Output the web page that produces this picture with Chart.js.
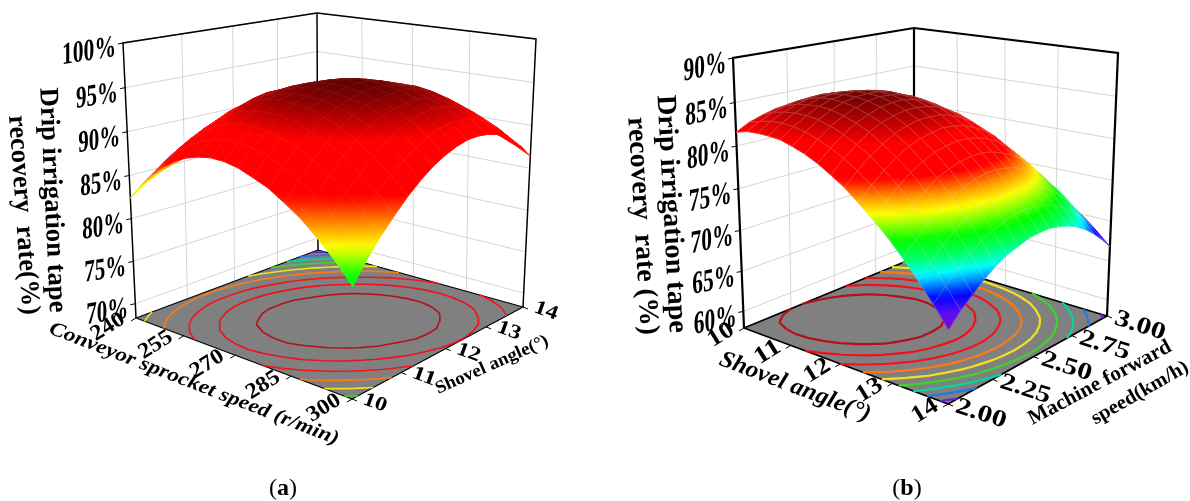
<!DOCTYPE html>
<html>
<head>
<meta charset="utf-8">
<title>Drip irrigation tape recovery rate</title>
<script src="https://cdn.jsdelivr.net/npm/chart.js@4/dist/chart.umd.min.js"></script>
<style>
  html, body { margin: 0; padding: 0; background: #fff; }
  canvas { display: block; }
</style>
</head>
<body>
<canvas id="grafica" width="1190" height="501"></canvas>
<script>
// tick values
const speedTicks = [240, 255, 270, 285, 300];
const angleTicks = [10, 11, 12, 13, 14];
const forwardTicks = [2.00, 2.25, 2.50, 2.75, 3.00];
const rateTicksA = [70, 75, 80, 85, 90, 95, 100];
const rateTicksB = [60, 65, 70, 75, 80, 85, 90];

// contour levels on the floor
const levelsA = [73.7, 76.2, 78.7, 81.2, 83.7, 86.2, 88.7, 91.2, 93.7];
const levelsB = [67.5, 69.5, 71.5, 73.5, 75.5, 77.5, 79.5, 81.5, 83.5];

// recovery rate: rows go 240 -> 300 r/min, columns 10 -> 14 deg
const rateA = [
  [82.4,83.5,84.4,85.0,85.4,85.6,85.5,85.2,84.7,83.9,82.9,81.7,80.2,78.5,76.6,74.4,72.0],
  [84.2,85.4,86.3,87.0,87.5,87.7,87.7,87.5,87.0,86.3,85.4,84.2,82.8,81.2,79.3,77.2,74.8],
  [85.7,87.0,88.0,88.7,89.3,89.6,89.6,89.5,89.1,88.4,87.6,86.5,85.1,83.5,81.7,79.7,77.4],
  [87.0,88.3,89.4,90.2,90.8,91.2,91.3,91.2,90.9,90.3,89.5,88.5,87.2,85.7,83.9,81.9,79.7],
  [88.0,89.4,90.5,91.4,92.1,92.5,92.7,92.7,92.4,91.9,91.2,90.2,89.0,87.5,85.8,83.9,81.8],
  [88.8,90.2,91.4,92.4,93.1,93.6,93.9,93.9,93.7,93.3,92.6,91.7,90.5,89.1,87.5,85.7,83.6],
  [89.3,90.8,92.1,93.1,93.9,94.3,94.5,94.6,94.4,94.1,93.7,92.9,91.8,90.5,88.9,87.2,85.1],
  [89.6,91.1,92.5,93.5,94.4,94.7,95.0,95.2,95.1,94.9,94.6,93.9,92.8,91.6,90.1,88.4,86.4],
  [89.6,91.2,92.6,93.7,94.7,95.0,95.4,95.6,95.6,95.4,95.0,94.4,93.6,92.4,91.0,89.3,87.5],
  [89.3,91.0,92.4,93.7,94.6,95.1,95.5,95.8,95.9,95.7,95.3,94.7,94.1,93.0,91.6,90.1,88.2],
  [88.7,90.5,92.0,93.3,94.4,94.9,95.4,95.7,95.8,95.7,95.4,94.9,94.4,93.3,92.0,90.5,88.7],
  [88.0,89.8,91.4,92.7,93.8,94.5,95.0,95.4,95.6,95.5,95.2,94.8,94.4,93.4,92.1,90.7,89.0],
  [86.9,88.8,90.5,91.9,93.1,94.0,94.7,94.9,95.2,95.2,95.0,94.6,94.1,93.2,92.0,90.6,89.0],
  [85.7,87.6,89.3,90.8,92.0,93.1,93.8,94.2,94.5,94.6,94.4,94.0,93.6,92.7,91.6,90.3,88.7],
  [84.1,86.1,87.9,89.4,90.7,91.8,92.7,93.3,93.7,93.8,93.7,93.4,92.8,92.0,91.0,89.7,88.2],
  [82.3,84.4,86.2,87.8,89.2,90.3,91.2,91.9,92.4,92.6,92.5,92.3,91.8,91.0,90.1,88.9,87.4],
  [80.2,82.4,84.3,85.9,87.4,88.6,89.6,90.3,90.8,91.1,91.1,90.9,90.5,89.8,88.9,87.8,86.4]
];

// recovery rate: rows go 10 -> 14 deg, columns 2.00 -> 3.00 km/h
const rateB = [
  [81.6,82.4,82.9,83.3,83.5,83.5,83.3,82.9,82.3,81.6,80.6,79.5,78.2,76.7,74.9,73.1,71.0],
  [82.0,82.8,83.5,83.9,84.2,84.3,84.1,83.8,83.3,82.6,81.7,80.5,79.2,77.7,76.0,74.1,72.1],
  [82.1,83.1,83.8,84.4,84.7,84.9,84.8,84.5,84.1,83.4,82.5,81.4,80.1,78.6,76.9,75.0,72.9],
  [82.1,83.2,84.0,84.6,85.1,85.2,85.2,85.0,84.6,84.0,83.1,82.1,80.8,79.3,77.6,75.7,73.6],
  [82.0,83.1,84.0,84.7,85.2,85.4,85.5,85.3,85.0,84.4,83.5,82.5,81.3,79.8,78.1,76.3,74.2],
  [81.6,82.8,83.8,84.6,85.1,85.4,85.5,85.4,85.1,84.5,83.8,82.8,81.5,80.1,78.5,76.6,74.5],
  [81.1,82.3,83.4,84.2,84.8,85.2,85.4,85.3,85.0,84.5,83.8,82.8,81.6,80.2,78.6,76.7,74.7],
  [80.4,81.7,82.8,83.7,84.3,84.8,85.0,85.0,84.7,84.2,83.5,82.6,81.5,80.1,78.5,76.7,74.7],
  [79.5,80.9,82.0,83.0,83.7,84.1,84.4,84.4,84.2,83.8,83.1,82.3,81.2,79.8,78.3,76.5,74.5],
  [78.5,79.9,81.1,82.0,82.8,83.3,83.6,83.6,83.5,83.1,82.5,81.7,80.6,79.3,77.8,76.1,74.2],
  [77.2,78.7,79.9,80.9,81.7,82.2,82.5,82.7,82.5,82.2,81.6,80.9,79.9,78.6,77.2,75.5,73.6],
  [75.8,77.3,78.5,79.6,80.4,81.0,81.3,81.5,81.4,81.1,80.6,79.9,78.9,77.7,76.4,74.8,72.9],
  [74.3,75.7,77.0,78.0,78.9,79.5,79.9,80.1,80.1,79.8,79.3,78.7,77.8,76.7,75.3,73.8,72.1],
  [72.5,74.0,75.3,76.3,77.2,77.8,78.3,78.5,78.5,78.3,77.9,77.3,76.4,75.4,74.1,72.7,71.0],
  [70.6,72.0,73.3,74.4,75.3,75.9,76.4,76.6,76.7,76.5,76.2,75.6,74.9,73.9,72.7,71.3,69.8],
  [68.5,69.9,71.2,72.3,73.2,73.8,74.3,74.6,74.7,74.6,74.3,73.8,73.1,72.2,71.1,69.8,68.4],
  [66.2,67.7,68.9,70.0,70.9,71.6,72.0,72.4,72.5,72.5,72.2,71.8,71.2,70.4,69.4,68.2,66.8]
];

const contourColors = ["#6a1be0", "#1f78e6", "#00d8a0", "#3fd42a", "#f2e21c", "#ff7a10", "#f5141e", "#f0101c", "#b4101c"];

// box corners of each 3d plot and how it is styled
const panelA = {
  grid: rateA, levels: levelsA, zMin: 68.3, zMax: 100, bend: 0.035,
  floor: [[136, 318], [352, 399], [523, 307], [318, 250]],
  roof: [[123, 43], [354, 93], [536, 39], [317, 13]],
  stops: [[72, "#8000e0"], [75, "#0040ff"], [77.5, "#00ffff"], [79.5, "#00ff40"], [81, "#00ff00"],
          [83.5, "#ffff00"], [85.5, "#ff8000"], [87.5, "#ff0000"], [92, "#ff0000"], [95.9, "#600000"]],
  frame: 1.5, contour: 1.6, mesh: "rgba(255,255,255,0.07)"
};
const panelB = {
  grid: rateB, levels: levelsB, zMin: 57.9, zMax: 90, bend: 0.07,
  floor: [[744, 328], [948, 404], [1107, 316], [914, 258]],
  roof: [[733, 58], [950, 102], [1118, 53], [914, 28]],
  stops: [[66, "#8000c0"], [67.5, "#6010f0"], [69, "#0000ff"], [71, "#00ffff"], [72.5, "#00ff60"], [74, "#00ff00"],
          [76.3, "#ffff00"], [77.7, "#ff9000"], [79.2, "#ff0000"], [82, "#ff0000"], [85.6, "#700000"]],
  frame: 2.2, contour: 2.2, mesh: "rgba(225,215,205,0.3)"
};

// maps the unit square onto four screen corners
const cuadrilatero = (c) => {
  const [[x0, y0], [x1, y1], [x2, y2], [x3, y3]] = c;
  const dx1 = x1 - x2, dx2 = x3 - x2, sx = x0 - x1 + x2 - x3;
  const dy1 = y1 - y2, dy2 = y3 - y2, sy = y0 - y1 + y2 - y3;
  const det = dx1 * dy2 - dx2 * dy1;
  const g = (sx * dy2 - dx2 * sy) / det;
  const h = (dx1 * sy - sx * dy1) / det;
  return (u, v) => {
    const w = g * u + h * v + 1;
    return {
      x: ((x1 - x0 + g * x1) * u + (x3 - x0 + h * x3) * v + x0) / w,
      y: ((y1 - y0 + g * y1) * u + (y3 - y0 + h * y3) * v + y0) / w
    };
  };
};

const proyectar = (panel, u, v, z) => {
  const t0 = (z - panel.zMin) / (panel.zMax - panel.zMin);
  const t = t0 / (1 + panel.bend * (1 - t0));
  const a = panel.mapFloor(u, v), b = panel.mapRoof(u, v);
  return { x: a.x + (b.x - a.x) * t, y: a.y + (b.y - a.y) * t };
};

const colorDe = (stops, z) => {
  if (z <= stops[0][0]) return stops[0][1];
  for (let i = 1; i < stops.length; i++) {
    if (z <= stops[i][0]) {
      const k = (z - stops[i - 1][0]) / (stops[i][0] - stops[i - 1][0]);
      const a = stops[i - 1][1], b = stops[i][1];
      const ch = (n) => Math.round(parseInt(a.substr(n, 2), 16) * (1 - k) + parseInt(b.substr(n, 2), 16) * k);
      return `rgb(${ch(1)},${ch(3)},${ch(5)})`;
    }
  }
  return stops[stops.length - 1][1];
};

const datasets = [];

const addLine = (data, color, width) => {
  datasets.push({ data, showLine: true, borderColor: color, borderWidth: width, pointRadius: 0, tension: 0, fill: false, spanGaps: false });
};

const addPoly = (data, fillColor, strokeColor, width) => {
  datasets.push({ data, showLine: true, backgroundColor: fillColor, borderColor: strokeColor, borderWidth: width, pointRadius: 0, tension: 0, fill: "shape", borderJoinStyle: "round" });
};

// walls, grid, floor
const addBox = (panel, rateTicks) => {
  const { zMin, zMax } = panel;
  const gris = "#d4d4d4";
  const P = (u, v, z) => proyectar(panel, u, v, z);

  rateTicks.forEach((z) => {
    addLine([P(0, 0, z), P(0, 1, z), P(1, 1, z)], gris, 1);
    const a = P(0, 0, z);
    addLine([{ x: a.x - 5, y: a.y + 1 }, a], "#000", 1);
  });
  [0.25, 0.5, 0.75].forEach((k) => {
    addLine([P(0, k, zMin), P(0, k, zMax)], gris, 1);
    addLine([P(k, 1, zMin), P(k, 1, zMax)], gris, 1);
  });

  addLine([P(0, 0, zMin), P(0, 0, zMax), P(0, 1, zMax), P(1, 1, zMax), P(1, 1, zMin)], "#000", panel.frame);
  addLine([P(0, 1, zMin), P(0, 1, zMax)], "#000", panel.frame);

  const piso = [P(0, 0, zMin), P(1, 0, zMin), P(1, 1, zMin), P(0, 1, zMin), P(0, 0, zMin)];
  addPoly(piso, "#808080", "#000", panel.frame * 0.8);

  [0, 0.25, 0.5, 0.75, 1].forEach((k) => {
    const a = P(k, 0, zMin), b = P(1, k, zMin);
    addLine([a, { x: a.x - 5, y: a.y + 3 }], "#000", 1);
    addLine([b, { x: b.x + 5, y: b.y + 2 }], "#000", 1);
  });
};

// floor contours, marching over every grid cell
const addContours = (panel) => {
  const g = panel.grid, n = g.length - 1;
  panel.levels.forEach((lv, li) => {
    const pts = [];
    for (let i = 0; i < n; i++) {
      for (let j = 0; j < n; j++) {
        const corners = [[i, j], [i + 1, j], [i + 1, j + 1], [i, j + 1]];
        const hits = [];
        for (let e = 0; e < 4; e++) {
          const [ai, aj] = corners[e], [bi, bj] = corners[(e + 1) % 4];
          const za = g[ai][aj], zb = g[bi][bj];
          if ((za < lv) !== (zb < lv)) {
            const k = (lv - za) / (zb - za);
            hits.push(proyectar(panel, (ai + (bi - ai) * k) / n, (aj + (bj - aj) * k) / n, panel.zMin));
          }
        }
        for (let h = 0; h + 1 < hits.length; h += 2) {
          pts.push(hits[h], hits[h + 1], { x: NaN, y: NaN });
        }
      }
    }
    addLine(pts, contourColors[li], panel.contour);
  });
};

// direction of the colour change over one cell: plane fit of z against screen position
const ejeColor = (cell) => {
  const mx = cell.reduce((s, p) => s + p.x, 0) / 4;
  const my = cell.reduce((s, p) => s + p.y, 0) / 4;
  const mz = cell.reduce((s, p) => s + p.z, 0) / 4;
  let xx = 0, xy = 0, yy = 0, xz = 0, yz = 0;
  cell.forEach((p) => {
    const dx = p.x - mx, dy = p.y - my, dz = p.z - mz;
    xx += dx * dx; xy += dx * dy; yy += dy * dy; xz += dx * dz; yz += dy * dz;
  });
  const det = xx * yy - xy * xy;
  if (Math.abs(det) < 1e-6) return null;
  const a = (xz * yy - yz * xy) / det, b = (yz * xx - xz * xy) / det;
  const len2 = a * a + b * b;
  if (len2 < 1e-9) return null;
  const zs = cell.map((p) => p.z);
  const lo = Math.min(...zs), hi = Math.max(...zs);
  return {
    lo, hi,
    from: { x: mx + a * (lo - mz) / len2, y: my + b * (lo - mz) / len2 },
    to: { x: mx + a * (hi - mz) / len2, y: my + b * (hi - mz) / len2 }
  };
};

// surface cells, back corner first so the front ones paint over them
const addSurface = (panel) => {
  const g = panel.grid, n = g.length - 1;
  for (let i = 0; i < n; i++) {
    for (let j = n - 1; j >= 0; j--) {
      const cell = [[i, j], [i + 1, j], [i + 1, j + 1], [i, j + 1]].map(([a, b]) => {
        const p = proyectar(panel, a / n, b / n, g[a][b]);
        return { x: p.x, y: p.y, z: g[a][b] };
      });
      const pts = [...cell, cell[0]].map((p) => ({ x: p.x, y: p.y }));
      const eje = ejeColor(cell);
      const media = cell.reduce((s, p) => s + p.z, 0) / 4;
      const sombra = (c) => {
        if (!eje) return colorDe(panel.stops, media);
        const { x: sx, y: sy } = c.chart.scales;
        const x0 = sx.getPixelForValue(eje.from.x), y0 = sy.getPixelForValue(eje.from.y);
        // on the first pass the scales have no size yet
        if (!Number.isFinite(x0) || !Number.isFinite(y0)) return colorDe(panel.stops, media);
        const grad = c.chart.ctx.createLinearGradient(x0, y0, sx.getPixelForValue(eje.to.x), sy.getPixelForValue(eje.to.y));
        for (let k = 0; k <= 6; k++) grad.addColorStop(k / 6, colorDe(panel.stops, eje.lo + (eje.hi - eje.lo) * k / 6));
        return grad;
      };
      addPoly(pts, sombra, sombra, 1);
      addLine(pts, panel.mesh, 0.8);
    }
  }
};

[panelA, panelB].forEach((panel) => {
  panel.mapFloor = cuadrilatero(panel.floor);
  panel.mapRoof = cuadrilatero(panel.roof);
});

addBox(panelA, rateTicksA);
addContours(panelA);
addSurface(panelA);
addBox(panelB, rateTicksB);
addContours(panelB);
addSurface(panelB);

// chart.js paints the first dataset last
datasets.reverse();

const SERIF = '"Liberation Serif", serif';

const putText = (ctx, str, cx, cy, o) => {
  ctx.save();
  ctx.translate(cx, cy);
  ctx.rotate((o.ang || 0) * Math.PI / 180);
  ctx.transform(1, o.skew || 0, 0, o.sy || 1, 0, 0);
  ctx.font = o.font;
  ctx.textAlign = "center";
  ctx.textBaseline = "middle";
  ctx.fillStyle = "#000";
  if (o.len) ctx.scale(o.len / ctx.measureText(str).width, 1);
  ctx.fillText(str, 0, 0);
  ctx.restore();
};

const putCaption = (ctx, letter, cx, cy) => {
  ctx.save();
  ctx.fillStyle = "#000";
  ctx.textBaseline = "middle";
  const normal = `24px ${SERIF}`, bold = `bold 24px ${SERIF}`;
  ctx.font = normal;
  const wp = ctx.measureText("(").width;
  ctx.font = bold;
  const wl = ctx.measureText(letter).width;
  let x = cx - (2 * wp + wl) / 2;
  ctx.font = normal; ctx.fillText("(", x, cy); x += wp;
  ctx.font = bold; ctx.fillText(letter, x, cy); x += wl;
  ctx.font = normal; ctx.fillText(")", x, cy);
  ctx.restore();
};

const labelsPlugin = {
  id: "labels3d",
  afterDraw(chart) {
    const ctx = chart.ctx;
    const { x: sx, y: sy } = chart.scales;
    const at = (panel, u, v, z) => {
      const p = proyectar(panel, u, v, z);
      return { x: sx.getPixelForValue(p.x), y: sy.getPixelForValue(p.y) };
    };

    // panel (a)
    rateTicksA.forEach((z) => {
      const p = at(panelA, 0, 0, z);
      const len = z === 100 ? 54 : 42;
      putText(ctx, `${z}%`, p.x - 7 - len / 2, p.y + 9, { font: `bold 23px ${SERIF}`, sy: 1.35, skew: -0.16, len });
    });
    speedTicks.forEach((t, i) => {
      const p = at(panelA, i / 4, 0, panelA.zMin);
      putText(ctx, String(t), p.x - 28, p.y + 9, { font: `bold 22px ${SERIF}`, ang: -32, len: 36 });
    });
    angleTicks.forEach((t, i) => {
      const p = at(panelA, 1, i / 4, panelA.zMin);
      putText(ctx, String(t), p.x + 23, p.y + 4, { font: `bold 20px ${SERIF}`, ang: 20, len: 24 });
    });
    putText(ctx, "Drip irrigation tape", 52, 200, { font: `bold 27px ${SERIF}`, ang: 87.5, len: 225 });
    putText(ctx, "recovery  rate(%)", 23, 215, { font: `bold 27px ${SERIF}`, ang: 86, len: 200 });
    putText(ctx, "Conveyor sprocket speed (r/min)", 194, 384, { font: `italic bold 20px ${SERIF}`, ang: 21.2, len: 309 });
    putText(ctx, "Shovel angle(°)", 492, 365, { font: `bold 18px ${SERIF}`, ang: -24, len: 122 });
    putCaption(ctx, "a", 283, 489);

    // panel (b)
    rateTicksB.forEach((z) => {
      const p = at(panelB, 0, 0, z);
      putText(ctx, `${z}%`, p.x - 7 - 21, p.y + 10, { font: `bold 24px ${SERIF}`, sy: 1.35, skew: -0.2, len: 43 });
    });
    angleTicks.forEach((t, i) => {
      const p = at(panelB, i / 4, 0, panelB.zMin);
      putText(ctx, String(t), p.x - 23, p.y + 7, { font: `bold 24px ${SERIF}`, ang: -32, len: 27 });
    });
    forwardTicks.forEach((t, i) => {
      const p = at(panelB, 1, i / 4, panelB.zMin);
      putText(ctx, t.toFixed(2), p.x + 33, p.y + 10, { font: `bold 24px ${SERIF}`, ang: 18, len: 52 });
    });
    putText(ctx, "Drip irrigation tape", 671, 214, { font: `bold 28px ${SERIF}`, ang: 87, len: 238 });
    putText(ctx, "recovery  rate (%)", 642, 226, { font: `bold 28px ${SERIF}`, ang: 86.6, len: 218 });
    putText(ctx, "Shovel angle(°)", 795, 387, { font: `italic bold 24px ${SERIF}`, ang: 20.8, len: 160 });
    putText(ctx, "Machine forward", 1100, 383, { font: `bold 21px ${SERIF}`, ang: -28, len: 159 });
    putText(ctx, "speed(km/h)", 1140, 393, { font: `bold 20px ${SERIF}`, ang: -30, len: 109 });
    putCaption(ctx, "b", 907, 489);
  }
};

new Chart(document.querySelector("#grafica"), {
  type: "scatter",
  data: { datasets },
  plugins: [labelsPlugin],
  options: {
    responsive: false,
    animation: false,
    events: [],
    layout: { padding: 0 },
    plugins: { legend: { display: false }, tooltip: { enabled: false }, title: { display: false } },
    scales: {
      x: { type: "linear", display: false, min: 0, max: 1190 },
      y: { type: "linear", display: false, min: 0, max: 501, reverse: true }
    }
  }
});
</script>
</body>
</html>
